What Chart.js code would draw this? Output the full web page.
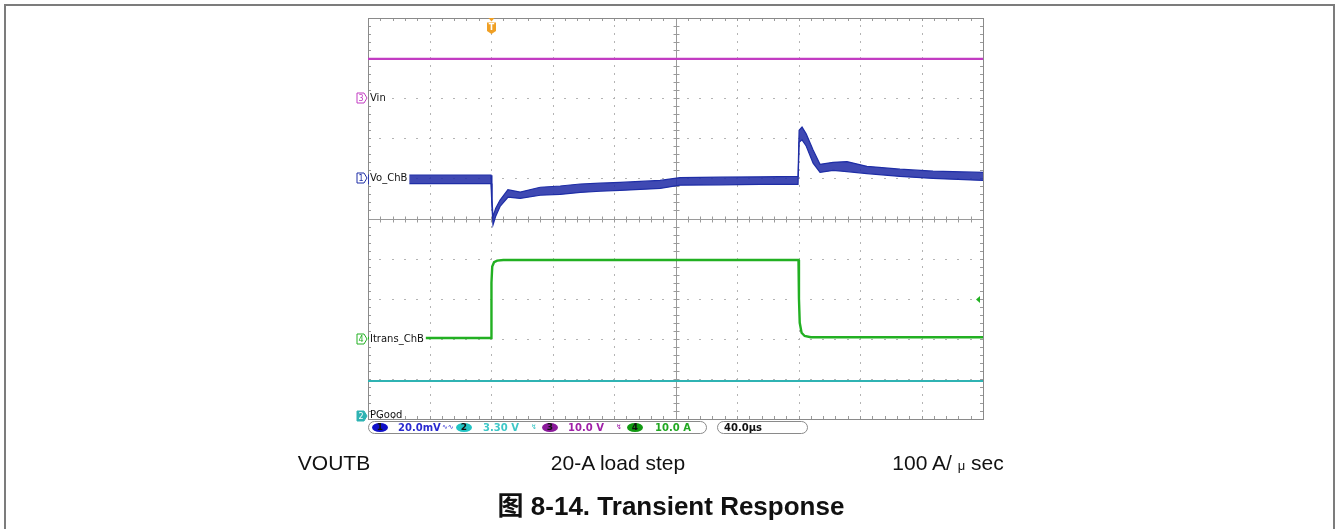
<!DOCTYPE html>
<html>
<head>
<meta charset="utf-8">
<script src="https://cdn.jsdelivr.net/npm/chart.js@4.4.0/dist/chart.umd.min.js"></script>
<style>
  body { margin: 0; background: #fff; width: 1336px; height: 529px; overflow: hidden; position: relative;
         font-family: "Liberation Sans", Arial, sans-serif; }
  #frame { position: absolute; left: 4px; top: 4px; width: 1331px; height: 600px;
           border: 2px solid #7c7c7c; box-sizing: border-box; }
  #scope { position: absolute; left: 0; top: 0; }
  .cap { position: absolute; top: 451px; font-size: 21px; transform: translateX(-50%); white-space: nowrap; color: #111; }
  .mu { font-size: 13px; }
  #title { position: absolute; top: 485px; left: 671px; transform: translateX(-50%); white-space: nowrap;
           font-weight: bold; font-size: 26px; color: #111; }
  #title .cjk { font-family: "Noto Sans CJK SC", sans-serif; font-weight: bold; }
</style>
</head>
<body>
<div id="frame"></div>
<canvas id="scope" width="1336" height="529"></canvas>
<div class="cap" style="left:334px">VOUTB</div>
<div class="cap" style="left:618px">20-A load step</div>
<div class="cap" style="left:948px">100 A/ <span class="mu">μ</span> sec</div>
<div id="title"><span class="cjk">图</span> 8-14. Transient Response</div>
<script>
// time in µs (trigger at 0), levels in screen divisions (centre = 0)
const vinTime = [-80, 320];
const vinLevel = [3.98, 3.98];

const pgoodTime = [-80, 320];
const pgoodLevel = [-4.05, -4.05];

const itransTime = [-80, 0, 0.3, 0.8, 2, 4, 8, 200, 200.3, 200.8, 202, 204, 208, 320];
const itransLevel = [-2.98, -2.98, -1.6, -1.2, -1.09, -1.05, -1.035, -1.035, -2.0, -2.6, -2.85, -2.93, -2.96, -2.96];

const voTime = [-80, 0, 0.6, 1.3, 3, 5.9, 11, 19, 32, 45, 58, 71, 84, 110, 123, 149, 175, 199.7,
                200.4, 202.3, 205, 209.5, 214, 222.5, 231.5, 244.5, 266, 287.5, 320];
const voUpper = [1.08, 1.08, 0.5, 0.04, 0.25, 0.46, 0.72, 0.66, 0.78, 0.81, 0.86, 0.88, 0.9, 0.95, 1.02, 1.03, 1.04, 1.05,
                 2.2, 2.28, 2.11, 1.71, 1.35, 1.4, 1.42, 1.3, 1.23, 1.18, 1.15];
const voLower = [0.87, 0.87, 0.3, -0.16, 0.05, 0.3, 0.53, 0.5, 0.58, 0.6, 0.65, 0.68, 0.7, 0.75, 0.83, 0.84, 0.85, 0.85,
                 1.9, 1.96, 1.81, 1.38, 1.15, 1.2, 1.17, 1.12, 1.05, 1.0, 0.95];

const channelNames = ['Vo_ChB', 'PGood', 'Vin', 'Itrans_ChB'];
const channelMarks = [1.0, -5.0, 3.0, -3.0];
const channelScales = ['20.0mV', '3.30 V', '10.0 V', '10.0 A'];
const channelColors = ['#1f2ea6', '#2fb3b3', '#c23cc2', '#22b022'];
const timebase = '40.0µs';
const triggerLevel = -2.0;

const pts = (xs, ys) => xs.map((x, i) => ({ x: x, y: ys[i] }));

const graticule = {
  id: 'graticule',
  beforeDatasetsDraw(chart) {
    const ctx = chart.ctx, xs = chart.scales.x, ys = chart.scales.y;
    const L = xs.getPixelForValue(-80), R = xs.getPixelForValue(320);
    const T = ys.getPixelForValue(5), B = ys.getPixelForValue(-5);
    ctx.save();
    ctx.fillStyle = '#b4b4b4';
    // dotted divisions
    for (let k = 1; k < 10; k++) {
      if (k === 5) continue;
      const x = Math.round(xs.getPixelForValue(-80 + 40 * k));
      for (let m = 1; m < 50; m++) {
        const y = Math.round(ys.getPixelForValue(-5 + m * 0.2));
        ctx.fillRect(x, y - 1, 1, 2);
      }
      const y = Math.round(ys.getPixelForValue(-5 + k));
      for (let m = 1; m < 50; m++) {
        const x2 = Math.round(xs.getPixelForValue(-80 + m * 8));
        ctx.fillRect(x2 - 1, y, 2, 1);
      }
    }
    // centre cross with minor ticks
    ctx.strokeStyle = '#9a9a9a';
    ctx.lineWidth = 1;
    const cx = Math.round(xs.getPixelForValue(120)) + 0.5, cy = Math.round(ys.getPixelForValue(0)) + 0.5;
    ctx.beginPath();
    ctx.moveTo(L, cy); ctx.lineTo(R, cy);
    ctx.moveTo(cx, T); ctx.lineTo(cx, B);
    for (let m = 1; m < 50; m++) {
      const x = Math.round(xs.getPixelForValue(-80 + m * 8)) + 0.5;
      ctx.moveTo(x, cy - 3); ctx.lineTo(x, cy + 3);
      ctx.moveTo(x, T); ctx.lineTo(x, T + 3);
      ctx.moveTo(x, B); ctx.lineTo(x, B - 3);
      const y = Math.round(ys.getPixelForValue(-5 + m * 0.2)) + 0.5;
      ctx.moveTo(cx - 3, y); ctx.lineTo(cx + 3, y);
      ctx.moveTo(L, y); ctx.lineTo(L + 3, y);
      ctx.moveTo(R, y); ctx.lineTo(R - 3, y);
    }
    ctx.stroke();
    ctx.strokeStyle = '#8a8a8a';
    ctx.strokeRect(Math.round(L) + 0.5, Math.round(T) + 0.5, Math.round(R - L), Math.round(B - T));
    ctx.restore();
  }
};

function marker(ctx, x, y, num, color, filled) {
  ctx.beginPath();
  ctx.moveTo(x - 10, y - 5);
  ctx.lineTo(x - 3, y - 5);
  ctx.lineTo(x, y);
  ctx.lineTo(x - 3, y + 5);
  ctx.lineTo(x - 10, y + 5);
  ctx.closePath();
  ctx.fillStyle = filled ? color : '#fff';
  ctx.fill();
  ctx.strokeStyle = color;
  ctx.lineWidth = 1;
  ctx.stroke();
  ctx.fillStyle = filled ? '#fff' : color;
  ctx.font = '8px DejaVu Sans';
  ctx.textAlign = 'center';
  ctx.textBaseline = 'middle';
  ctx.fillText(num, x - 6, y + 0.5);
}

function pill(ctx, x, y, w, h) {
  ctx.beginPath();
  ctx.roundRect(x + 0.5, y + 0.5, w, h, h / 2);
  ctx.fillStyle = '#fff';
  ctx.fill();
  ctx.strokeStyle = '#8a8a8a';
  ctx.lineWidth = 1;
  ctx.stroke();
}

function badge(ctx, x, y, num, color) {
  ctx.beginPath();
  ctx.ellipse(x, y, 8, 4.5, 0, 0, Math.PI * 2);
  ctx.fillStyle = color;
  ctx.fill();
  ctx.fillStyle = '#111';
  ctx.font = 'bold 9px DejaVu Sans';
  ctx.textAlign = 'center';
  ctx.textBaseline = 'middle';
  ctx.fillText(num, x, y + 0.5);
}

const overlay = {
  id: 'overlay',
  afterDatasetsDraw(chart) {
    const ctx = chart.ctx, xs = chart.scales.x, ys = chart.scales.y;
    const L = Math.round(xs.getPixelForValue(-80));
    const B = Math.round(ys.getPixelForValue(-5));
    ctx.save();
    // channel labels on the left
    const order = [2, 0, 3, 1];
    order.forEach(i => {
      const y = Math.round(ys.getPixelForValue(channelMarks[i]));
      ctx.font = '10px DejaVu Sans';
      const w = ctx.measureText(channelNames[i]).width;
      if (i !== 1) {
        ctx.fillStyle = '#fff';
        ctx.fillRect(L + 1, y - 7, w + 3, 15);
      }
      ctx.fillStyle = '#111';
      ctx.textAlign = 'left';
      ctx.textBaseline = 'middle';
      ctx.fillText(channelNames[i], L + 2, i === 1 ? y - 4 : y);
      marker(ctx, L - 1, i === 1 ? y - 3 : y, String(i + 1), channelColors[i], i === 1);
    });

    // trigger position marker
    const tx = Math.round(xs.getPixelForValue(0)) + 0.5;
    ctx.fillStyle = '#f0a024';
    ctx.beginPath();
    ctx.moveTo(tx - 3, 18); ctx.lineTo(tx + 3, 18); ctx.lineTo(tx, 21.5); ctx.closePath(); ctx.fill();
    ctx.beginPath();
    ctx.moveTo(tx - 4.5, 22.5); ctx.lineTo(tx + 4.5, 22.5); ctx.lineTo(tx + 4.5, 31); ctx.lineTo(tx, 34);
    ctx.lineTo(tx - 4.5, 31); ctx.closePath(); ctx.fill();
    ctx.fillStyle = '#fff';
    ctx.font = 'bold 8px DejaVu Sans';
    ctx.textAlign = 'center';
    ctx.textBaseline = 'middle';
    ctx.fillText('T', tx, 28);

    // trigger level arrow
    const R = Math.round(xs.getPixelForValue(320));
    const ly = Math.round(ys.getPixelForValue(triggerLevel)) + 0.5;
    ctx.fillStyle = channelColors[3];
    ctx.beginPath();
    ctx.moveTo(R - 7, ly); ctx.lineTo(R - 3, ly - 3.5); ctx.lineTo(R - 3, ly + 3.5); ctx.closePath(); ctx.fill();

    // status bar
    const top = B + 2;
    pill(ctx, L, top, 338, 12);
    pill(ctx, L + 349, top, 90, 12);
    const cyc = top + 6.5;
    const badgeX = [L + 12, L + 96, L + 182, L + 267];
    const textX = [L + 30, L + 115, L + 200, L + 287];
    const badgeCol = ['#1010c8', '#22c4c4', '#8a1a9a', '#129a12'];
    const textCol = ['#2a2ad0', '#3ec8c8', '#a020a8', '#22a822'];
    for (let i = 0; i < 4; i++) {
      badge(ctx, badgeX[i], cyc, String(i + 1), badgeCol[i]);
      ctx.fillStyle = textCol[i];
      ctx.font = 'bold 10px DejaVu Sans';
      ctx.textAlign = 'left';
      ctx.textBaseline = 'middle';
      ctx.fillText(channelScales[i], textX[i], cyc + 0.5);
    }
    ctx.font = '7px DejaVu Sans';
    ctx.fillStyle = textCol[0];
    ctx.fillText('∿∿', L + 74, cyc);
    ctx.fillStyle = textCol[1];
    ctx.fillText('↯', L + 163, cyc);
    ctx.fillStyle = textCol[2];
    ctx.fillText('↯', L + 248, cyc);
    ctx.fillStyle = '#111';
    ctx.font = 'bold 10px DejaVu Sans';
    ctx.fillText(timebase, L + 356, cyc + 0.5);
    ctx.restore();
  }
};

new Chart(document.getElementById('scope'), {
  type: 'line',
  data: {
    datasets: [
      { data: pts(vinTime, vinLevel), borderColor: channelColors[2], borderWidth: 2.2, fill: false },
      { data: pts(pgoodTime, pgoodLevel), borderColor: channelColors[1], borderWidth: 2, fill: false },
      { data: pts(itransTime, itransLevel), borderColor: channelColors[3], borderWidth: 2.4, fill: false },
      { data: pts(voTime, voUpper), borderColor: channelColors[0], borderWidth: 1.2, fill: false },
      { data: pts(voTime, voLower), borderColor: channelColors[0], borderWidth: 1.2, fill: '-1',
        backgroundColor: 'rgba(36,48,168,0.88)' }
    ]
  },
  options: {
    responsive: false,
    devicePixelRatio: 1,
    animation: false,
    layout: { padding: { left: 368, top: 18, right: 353, bottom: 110 } },
    elements: { point: { radius: 0 }, line: { tension: 0 } },
    plugins: { legend: { display: false }, tooltip: { enabled: false } },
    scales: {
      x: { type: 'linear', min: -80, max: 320, display: false },
      y: { type: 'linear', min: -5, max: 5, display: false }
    }
  },
  plugins: [graticule, overlay]
});
</script>
</body>
</html>
